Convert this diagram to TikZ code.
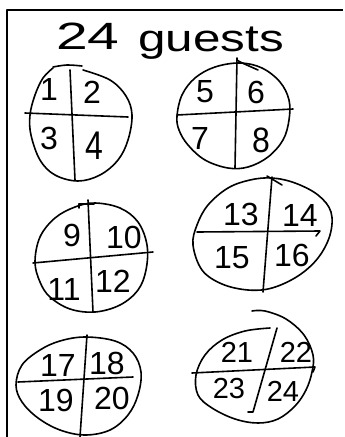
\documentclass[tikz,border=0pt]{standalone}
\usepackage{fontspec}
\setmainfont{Liberation Sans}
\begin{document}
\begin{tikzpicture}[x=1pt,y=-1pt, line cap=round, line join=round,
  ink/.style={line width=1.6pt, black},
  frame/.style={line width=2.6pt, black, line cap=butt},
  num/.style={font=\fontsize{32}{32}\selectfont, inner sep=0pt},
  smallnum/.style={num, font=\fontsize{29}{29}\selectfont},
  ttl/.style={font=\fontsize{38}{38}\selectfont, inner sep=0pt, anchor=base}]
\useasboundingbox (0,0) rectangle (345,437);
\fill[white] (0,0) rectangle (345,437);
\draw[frame] (7,437) -- (7,10) -- (343,10);
% title
\node[ttl, xscale=1.5] (t24) at (88,49) {24};
\node[ttl, xscale=1.3] (tguests) at (211,51) {guests};
% table 1
\draw[ink] plot[smooth, tension=0.6] coordinates {(53,67) (67,65) (82,66)};
\draw[ink] plot[smooth, tension=0.6] coordinates {(83,70) (110,80) (126,96) (132,115) (128,140) (118,160) (100,175) (78,181) (55,175) (40,160) (31,135) (30,115) (35,95) (43,78) (53,68)};
\draw[ink] (25,113) -- (128,117);
\draw[ink] (70,70) -- (75,180);
\node[num] (n1) at (49,89) {1};
\node[num] (n2) at (92,92) {2};
\node[num] (n3) at (49,138) {3};
\node[num, yscale=1.25] (n4) at (94,146) {4};
% table 2
\draw[ink] plot[smooth cycle, tension=0.6] coordinates {(177,116) (182,95) (195,78) (215,67) (240,63) (262,68) (280,82) (289,100) (289,120) (283,140) (268,157) (248,167) (228,168) (205,160) (188,145) (179,130)};
\draw[ink] (177,115) -- (293,109);
\draw[ink] (237,58) -- (235,168);
\draw[ink] (237,60) .. controls (240,62) .. (258,70);
\node[num] (n5) at (205,92) {5};
\node[num] (n6) at (256,92) {6};
\node[num] (n7) at (200,138) {7};
\node[num, yscale=1.1] (n8) at (261,140) {8};
% table 3
\draw[ink] plot[smooth cycle, tension=0.6] coordinates {(35,262) (40,237) (55,218) (75,207) (95,203) (120,208) (138,222) (147,245) (146,270) (138,290) (120,305) (95,312) (70,309) (50,297) (40,282)};
\draw[ink] (33,263) -- (153,252);
\draw[ink] (88,200) -- (93,312);
\draw[ink] (79,208) -- (79,204) -- (94,204);
\node[num] (n9) at (72,235) {9};
\node[num] (n10) at (124,237) {10};
\node[num] (n11) at (64,289) {11};
\node[num] (n12) at (113,281) {12};
% table 4
\draw[ink] plot[smooth cycle, tension=0.6] coordinates {(193,245) (197,225) (208,205) (228,188) (250,180) (272,178) (295,183) (318,195) (331,212) (330,235) (318,258) (298,276) (272,288) (248,290) (222,284) (202,270)};
\draw[ink] (197,232) -- (320,231) -- (316,236);
\draw[ink] (272,177) -- (263,292);
\draw[ink] (267,176) -- (282,185);
\node[num] (n13) at (241,214) {13};
\node[num] (n14) at (300,215) {14};
\node[num] (n15) at (232,258) {15};
\node[num] (n16) at (292,255) {16};
% table 5
\draw[ink] plot[smooth cycle, tension=0.6] coordinates {(16,385) (22,365) (40,350) (60,341) (85,337) (115,341) (133,353) (141,372) (138,395) (128,415) (110,430) (85,435) (60,430) (38,418) (22,402)};
\draw[ink] (18,382) -- (133,377);
\draw[ink] (87,335) -- (80,437);
\node[num] (n17) at (58,365) {17};
\node[num] (n18) at (107,363) {18};
\node[num] (n19) at (56,400) {19};
\node[num] (n20) at (112,398) {20};
% table 6
\draw[ink] plot[smooth, tension=0.6] coordinates {(270,328) (245,331) (222,340) (205,355) (196,375) (198,395) (212,408) (235,419) (258,423) (278,419) (295,406) (306,390) (312,372) (313,355) (304,335) (286,319) (265,311) (252,311)};
\draw[ink] (192,373) -- (315,367) -- (313,372);
\draw[ink] (277,328) -- (253,412) -- (248,412);
\node[smallnum] (n21) at (237,352) {21};
\node[smallnum] (n22) at (296,352) {22};
\node[smallnum] (n23) at (229,389) {23};
\node[smallnum] (n24) at (283,391) {24};
\end{tikzpicture}
\end{document}
